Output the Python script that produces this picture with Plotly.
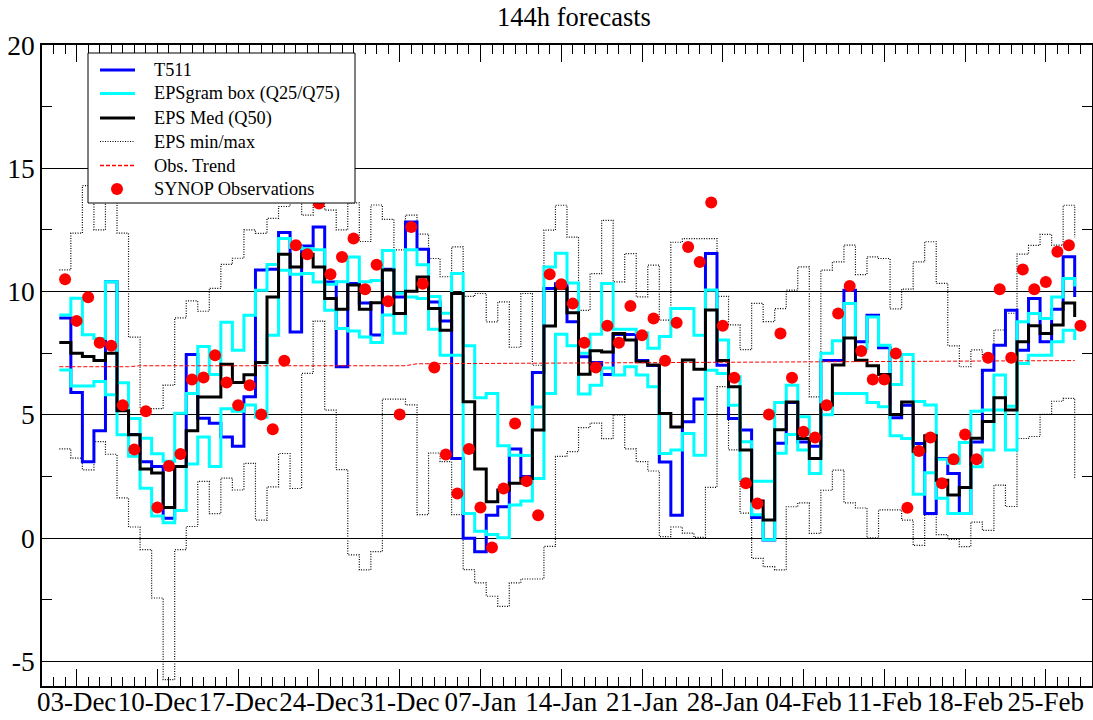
import pandas as pd
import plotly.graph_objects as go

# ---------------- data (daily values, 02-Dec-2004 .. 28-Feb-2005) ----------------
first_day = "2004-12-02"

t511 = [8.93, 5.9, 3.1, 4.35, 10.4, 5.2, 4.2, 3.1, 2.9, 0.8,
        2.9, 7.45, 4.86, 4.66, 4.1, 3.72, 5.73, 10.87, 10.9, 12.39,
        8.36, 11.85, 12.62, 10.39, 6.95, 10.33, 9.54, 8.24, 10.9, 9.78,
        12.82, 11.72, 9.58, 8.81, 3.23, -0.01, -0.55, 0.93, 1.27, 3.61,
        2.5, 6.72, 10.12, 10.32, 8.77, 7.35, 7.12, 6.64, 8.26, 8.26,
        7.2, 7.0, 3.09, 0.93, 4.72, 5.64, 11.54, 7.01, 4.85, 4.38,
        0.83, -0.08, 3.85, 5.5, 3.9, 3.72, 7.2, 7.2, 10.05, 7.96,
        9.04, 7.72, 4.88, 5.39, 3.84, 1.0, 3.23, 2.62, 1.0, 3.9,
        6.81, 7.82, 9.24, 7.62, 9.72, 7.96, 9.28, 11.41, 9.78]

eps_q75 = [9.05, 9.73, 8.25, 8.1, 10.4, 6.3, 4.85, 4.05, 3.42, 3.12,
           5.06, 5.86, 7.77, 6.64, 8.75, 7.62, 9.04, 10.05, 11.1, 12.15,
           11.8, 11.74, 11.7, 10.3, 10.4, 11.4, 10.4, 10.45, 11.66, 9.93,
           11.7, 11.09, 9.8, 9.12, 10.73, 7.8, 5.69, 5.86, 3.74, 3.36,
           3.35, 5.32, 11.0, 11.55, 10.35, 7.5, 8.27, 10.33, 8.47, 8.47,
           8.33, 7.7, 8.18, 9.31, 9.31, 8.23, 10.06, 8.03, 6.54, 3.91,
           2.3, 2.3, 5.5, 6.2, 4.92, 4.2, 7.5, 8.0, 9.51, 7.69,
           8.97, 7.82, 6.23, 7.45, 5.54, 5.4, 3.2, 3.04, 3.88, 5.14,
           5.2, 6.61, 5.35, 8.77, 9.11, 8.91, 9.78, 10.53, 10.2]

eps_q50 = [7.93, 7.5, 7.36, 7.2, 7.5, 5.16, 4.19, 2.8, 2.64, 1.24,
           2.9, 4.35, 5.72, 5.72, 7.05, 6.31, 6.62, 7.12, 9.78, 11.51,
           11.0, 11.51, 11.0, 9.72, 9.28, 10.27, 9.28, 9.55, 10.87, 9.11,
           10.01, 10.59, 9.31, 8.43, 9.92, 5.53, 2.8, 1.47, 1.95, 2.22,
           2.42, 4.38, 8.6, 10.13, 9.14, 6.65, 7.6, 7.55, 8.3, 8.03,
           7.15, 7.02, 5.05, 4.51, 7.22, 6.85, 9.25, 7.2, 6.14, 3.57,
           1.5, 0.73, 4.39, 5.52, 4.04, 3.23, 5.4, 7.02, 8.12, 7.21,
           6.99, 6.63, 5.01, 5.52, 3.52, 4.15, 2.35, 1.75, 2.05, 4.05,
           4.73, 5.69, 5.2, 7.96, 8.61, 8.3, 8.64, 9.54, 8.97]

eps_q25 = [6.82, 6.17, 6.17, 6.35, 5.81, 4.19, 3.32, 2.02, 0.9, 0.62,
           1.12, 3.0, 4.1, 2.9, 5.25, 5.14, 5.4, 4.9, 8.23, 10.86,
           10.7, 10.73, 10.39, 9.24, 8.5, 8.4, 8.16, 7.93, 9.05, 8.31,
           9.78, 9.72, 8.47, 7.42, 7.42, 1.0, 0.28, 0.15, 0.01, 1.34,
           1.5, 2.42, 5.86, 8.27, 7.8, 5.84, 6.2, 6.9, 6.61, 6.95,
           6.61, 6.14, 3.43, 3.57, 4.24, 3.36, 6.81, 6.68, 5.39, 2.39,
           0.95, -0.07, 3.44, 4.2, 3.57, 2.62, 5.0, 5.86, 5.86, 5.86,
           5.5, 5.33, 4.15, 4.04, 1.78, 2.65, 1.62, 1.0, 1.0, 2.89,
           3.57, 5.19, 3.57, 7.08, 7.42, 7.42, 7.96, 8.43, 8.03]

eps_max = [10.88, 12.37, 14.3, 12.5, 14.5, 12.37, 8.15, 5.25, 5.25, 6.2,
           8.93, 9.62, 9.2, 10.13, 11.1, 11.35, 12.5, 12.36, 12.97, 13.45,
           14.0, 13.1, 13.5, 13.3, 12.5, 13.6, 12.03, 13.51, 12.93, 11.69,
           13.1, 12.33, 11.34, 10.6, 11.81, 9.8, 9.92, 8.77, 9.58, 7.74,
           9.92, 7.01, 12.49, 13.5, 12.21, 9.24, 10.73, 12.89, 10.39, 11.54,
           9.78, 11.07, 8.84, 12.0, 12.15, 12.15, 12.15, 9.8, 8.65, 7.64,
           9.52, 8.78, 9.31, 10.06, 11.0, 5.73, 10.87, 11.2, 11.88, 10.69,
           11.41, 11.34, 9.3, 10.1, 11.2, 12.02, 10.33, 7.8, 6.95, 7.63,
           7.3, 8.44, 9.12, 11.52, 11.87, 12.32, 11.88, 13.5, 12.2]

eps_min = [3.62, 3.24, 2.77, 3.91, 3.4, 1.63, 0.45, -0.47, -2.43, -5.74,
           -0.47, 0.47, 2.3, 0.99, 2.43, 1.95, 3.03, 0.73, 2.08, 3.43,
           2.01, 6.68, 8.8, 5.19, 2.78, -0.68, -1.29, -0.55, 5.64, 5.64,
           5.4, 0.95, 3.45, 3.1, 0.95, -1.28, -1.82, -2.36, -2.77, -1.82,
           -1.66, -1.66, -0.34, 3.31, 3.51, 4.48, 4.66, 4.03, 5.0, 3.62,
           3.1, 2.72, 0.06, 0.45, 0.2, 0.03, 2.06, 6.14, 3.58, 1.01,
           -0.82, -1.16, -1.29, 1.27, 1.43, 0.19, 1.94, 2.76, 1.43, 1.22,
           0.01, 1.14, 1.14, 0.73, -0.3, 0.95, 0.14, -0.05, -0.35, 0.65,
           0.31, 2.15, 1.28, 4.04, 4.12, 5.02, 5.55, 5.67, 2.45]

synop_obs = [10.5, 8.81, 9.77, 7.92, 7.8, 5.39, 3.59, 5.14, 1.24, 2.92,
             3.41, 6.43, 6.51, 7.42, 6.31, 5.39, 6.2, 5.01, 4.41, 7.19,
             11.88, 11.51, 13.57, 10.7, 11.4, 12.15, 10.09, 11.09, 9.61, 5.01,
             12.62, 10.32, 6.92, 3.39, 1.81, 3.61, 1.24, -0.38, 2.01, 4.65,
             2.31, 0.93, 10.7, 10.3, 9.51, 7.92, 6.92, 8.61, 7.92, 9.41,
             8.23, 8.91, 7.19, 8.73, 11.81, 11.2, 13.61, 8.61, 6.5, 2.22,
             1.4, 5.01, 8.3, 6.5, 4.31, 4.08, 5.39, 9.11, 10.22, 7.59,
             6.43, 6.43, 7.49, 1.23, 3.53, 4.08, 2.22, 3.2, 4.2, 3.2,
             7.31, 10.09, 7.31, 10.89, 10.09, 10.39, 11.61, 11.88, 8.61]

trend_dates = ["2004-12-01 12:00", "2004-12-07 12:00", "2004-12-08 12:00",
               "2004-12-31 12:00", "2005-01-01 12:00", "2005-02-27 12:00"]
trend_vals = [6.95, 6.95, 6.99, 6.99, 7.07, 7.2]

y_tickvals = [-5, 0, 5, 10, 15, 20]
y_ticktext = ["-5", "0", "5", "10", "15", "20"]

legend_labels = ["T511", "EPSgram box (Q25/Q75)", "EPS Med (Q50)",
                 "EPS min/max", "Obs. Trend", "SYNOP Observations"]

# ---------------- styles ----------------
FONT = "Liberation Serif, Times New Roman, serif"
BLUE, CYAN, RED = "#0000FF", "#00FFFF", "#FF0000"
DOT = "1px,1.5px"
styles = [
    dict(kind="line", color=BLUE, width=3, dash=None),
    dict(kind="line", color=CYAN, width=3, dash=None),
    dict(kind="line", color="black", width=3, dash=None),
    dict(kind="line", color="black", width=1.2, dash=DOT),
    dict(kind="line", color=RED, width=1.6, dash="4px,2px"),
    dict(kind="dot", color=RED),
]

# ---------------- figure ----------------
days = pd.date_range(first_day, periods=len(synop_obs), freq="D")
edges = days - pd.Timedelta(hours=12)   # each daily value covers its own day

fig = go.Figure()

def step_trace(y, name, st):
    fig.add_trace(go.Scatter(
        x=edges, y=y, mode="lines", name=name, showlegend=False,
        line=dict(color=st["color"], width=st["width"], dash=st["dash"], shape="hv"),
        hoverinfo="skip"))

step_trace(eps_max, "EPS max", styles[3])
step_trace(eps_min, "EPS min", styles[3])
step_trace(t511, "T511", styles[0])
step_trace(eps_q75, "EPS Q75", styles[1])
step_trace(eps_q25, "EPS Q25", styles[1])
step_trace(eps_q50, "EPS Med (Q50)", styles[2])

fig.add_trace(go.Scatter(
    x=pd.to_datetime(trend_dates), y=trend_vals, mode="lines", name="Obs. Trend",
    showlegend=False, line=dict(color=RED, width=1, dash="4px,2px"), hoverinfo="skip"))

fig.add_trace(go.Scatter(
    x=days, y=synop_obs, mode="markers", name="SYNOP Observations", showlegend=False,
    marker=dict(color=RED, size=12, line=dict(width=0))))

# ---------------- legend box (drawn in pixel layout of the plot area) ----------------
PL, PT, PW, PH = 42, 45, 1050, 641          # plot area in pixels
def px(x):
    return (x - PL) / PW
def py(y):
    return 1 - (y - PT) / PH

shapes = [dict(type="rect", xref="paper", yref="paper", layer="above",
               x0=px(88), x1=px(355), y0=py(53), y1=py(203),
               fillcolor="white", line=dict(color="black", width=1))]
annotations = []
row_y = [70, 93.5, 118, 141.5, 165.5, 189]
for label, st, yy in zip(legend_labels, styles, row_y):
    if st["kind"] == "line":
        shapes.append(dict(type="line", xref="paper", yref="paper", layer="above",
                           x0=px(100), x1=px(135), y0=py(yy), y1=py(yy),
                           line=dict(color=st["color"], width=st["width"],
                                     dash=st["dash"] or "solid")))
    else:
        r = 6
        shapes.append(dict(type="circle", xref="paper", yref="paper", layer="above",
                           x0=px(117 - r), x1=px(117 + r), y0=py(yy + r), y1=py(yy - r),
                           fillcolor=st["color"], line=dict(width=0)))
    annotations.append(dict(text=label, xref="paper", yref="paper", x=px(152), y=py(yy),
                            xanchor="left", yanchor="middle", showarrow=False,
                            font=dict(family=FONT, size=18.3, color="black")))

fig.update_layout(
    width=1093, height=720,
    margin=dict(l=PL, r=1, t=PT, b=34, autoexpand=False),
    paper_bgcolor="white", plot_bgcolor="white",
    font=dict(family=FONT, color="black"),
    title=dict(text="144h forecasts", x=px(574), xref="paper", xanchor="center",
               y=1 - 17 / 720, yref="container", yanchor="middle",
               font=dict(family=FONT, size=26.5, color="black")),
    showlegend=False,
    shapes=shapes, annotations=annotations,
)

fig.update_xaxes(
    type="date", range=["2004-11-30", "2005-03-01"], automargin=False,
    tickmode="linear", tick0="2004-12-03", dtick=7 * 86400000, tickformat="%d-%b",
    ticks="inside", ticklen=17, tickwidth=1, tickcolor="black", tickangle=0,
    ticklabelstandoff=-9,
    tickfont=dict(family=FONT, size=27, color="black"),
    showline=True, linecolor="black", linewidth=1.5, mirror="ticks",
    showgrid=False, zeroline=False,
    minor=dict(dtick=86400000, tick0="2004-12-03", ticks="inside", ticklen=9,
               tickwidth=1, tickcolor="black", showgrid=False),
)

fig.update_yaxes(
    range=[-6, 20], automargin=False, tickmode="array", tickvals=y_tickvals, ticktext=y_ticktext,
    ticks="inside", ticklen=17, tickwidth=1, tickcolor="black",
    tickfont=dict(family=FONT, size=27.5, color="black"),
    showline=True, linecolor="black", linewidth=1.5, mirror="ticks",
    showgrid=True, gridcolor="black", gridwidth=1, zeroline=False,
    minor=dict(tickmode="linear", tick0=0, dtick=2.5, ticks="inside", ticklen=10,
               tickwidth=1, tickcolor="black", showgrid=False),
)

fig.write_html("out.html")
